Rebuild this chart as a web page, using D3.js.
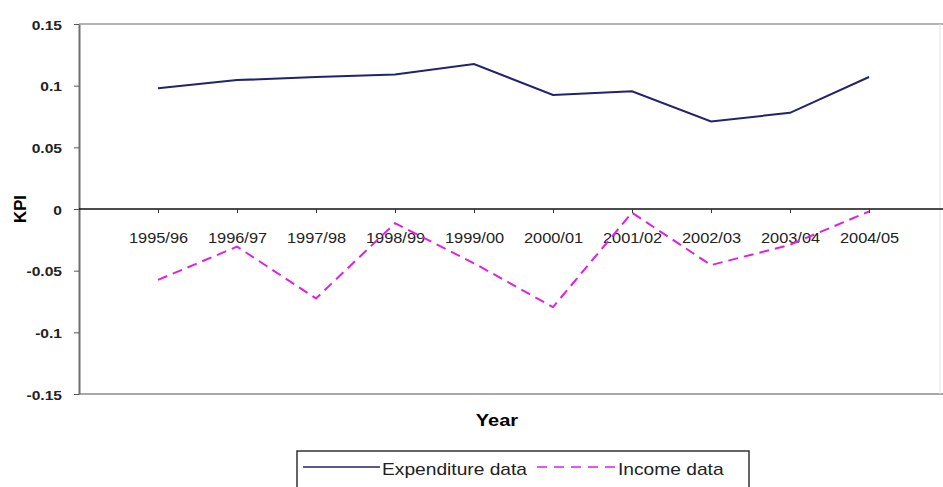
<!DOCTYPE html>
<html lang="en">
<head>
<meta charset="UTF-8">
<title>KPI by Year</title>
<script src="https://d3js.org/d3.v7.min.js"></script>
<style>
  body { margin: 0; background: #fff; }
  svg text { font-family: "Liberation Sans", Arial, sans-serif; }
</style>
</head>
<body>
<div id="chart"></div>
<script>
// data
const years = ["1995/96", "1996/97", "1997/98", "1998/99", "1999/00",
               "2000/01", "2001/02", "2002/03", "2003/04", "2004/05"];
const expenditure = [0.098, 0.1045, 0.107, 0.109, 0.1175, 0.0925, 0.0955, 0.071, 0.078, 0.107];
const income = [-0.0575, -0.0305, -0.0725, -0.0115, -0.044, -0.0795, -0.003, -0.0455, -0.029, -0.002];
const yTicks = [0.15, 0.1, 0.05, 0, -0.05, -0.1, -0.15];

const width = 943, height = 487;
const plot = { left: 79, right: 940, top: 24, bottom: 394 };

// the source image is stretched sideways, so text is widened a bit
function stretchText(sel, sx) {
    sel.each(function() {
        const t = d3.select(this);
        const tx = +t.attr("x") || 0, ty = +t.attr("y") || 0;
        t.attr("x", 0).attr("y", 0)
            .attr("transform", `translate(${tx},${ty}) scale(${sx},1)`);
    });
}

const svg = d3.select("#chart").append("svg")
    .attr("width", width)
    .attr("height", height);

const x = d3.scalePoint()
    .domain(years)
    .range([158, 869]);

const y = d3.scaleLinear()
    .domain([-0.15, 0.15])
    .range([plot.bottom, plot.top]);

// plot frame (grey top / bottom / right)
svg.append("line")
    .attr("x1", plot.left).attr("x2", width)
    .attr("y1", plot.top).attr("y2", plot.top)
    .attr("stroke", "#b4b4b4").attr("stroke-width", 2);
svg.append("line")
    .attr("x1", plot.left).attr("x2", width)
    .attr("y1", plot.bottom).attr("y2", plot.bottom)
    .attr("stroke", "#a8a8a8").attr("stroke-width", 2);
svg.append("line")
    .attr("x1", plot.right).attr("x2", plot.right)
    .attr("y1", plot.top).attr("y2", plot.bottom)
    .attr("stroke", "#e4e4e4").attr("stroke-width", 1);

// y axis
const yAxis = svg.append("g")
    .attr("transform", `translate(${plot.left},0)`)
    .call(d3.axisLeft(y).tickValues(yTicks).tickSize(5).tickSizeOuter(0)
        .tickFormat(d => d === 0 ? "0" : String(+d.toFixed(2))));
yAxis.select(".domain").attr("stroke", "#6e6e6e").attr("stroke-width", 2);
yAxis.selectAll(".tick line").attr("stroke", "#555");
yAxis.selectAll(".tick text")
    .attr("x", -17)
    .attr("y", 5)
    .attr("dy", null)
    .attr("fill", "#222")
    .style("font-size", "13px")
    .style("font-weight", "bold")
    .call(stretchText, 1.2);

// x axis on zero line
const xAxis = svg.append("g")
    .attr("transform", `translate(0,${y(0)})`)
    .call(d3.axisBottom(x).tickSize(4).tickSizeOuter(0));
xAxis.select(".domain")
    .attr("d", `M${plot.left},0H${width}`)
    .attr("stroke", "#111").attr("stroke-width", 1.5);
xAxis.selectAll(".tick line").attr("stroke", "#333");
xAxis.selectAll(".tick text")
    .attr("y", 34)
    .attr("dy", null)
    .attr("fill", "#222")
    .style("font-size", "14px")
    .call(stretchText, 1.17);

// lines
const line = d3.line()
    .x((d, i) => x(years[i]))
    .y(d => y(d));

svg.append("path")
    .datum(expenditure)
    .attr("d", line)
    .attr("fill", "none")
    .attr("stroke", "#22226e")
    .attr("stroke-width", 2);

svg.append("path")
    .datum(income)
    .attr("d", line)
    .attr("fill", "none")
    .attr("stroke", "#e020e0")
    .attr("stroke-width", 2)
    .attr("stroke-dasharray", "10,6");

// axis titles
svg.append("text")
    .attr("transform", `translate(26,${y(0)}) rotate(-90) scale(1.2,1.2)`)
    .attr("text-anchor", "middle")
    .style("font-size", "14px")
    .style("font-weight", "bold")
    .text("KPI");

svg.append("text")
    .attr("x", 497)
    .attr("y", 426)
    .attr("text-anchor", "middle")
    .style("font-size", "16px")
    .style("font-weight", "bold")
    .text("Year")
    .call(stretchText, 1.25);

// legend
const legend = svg.append("g");
legend.append("rect")
    .attr("x", 297).attr("y", 451)
    .attr("width", 452).attr("height", 50)
    .attr("fill", "#fff")
    .attr("stroke", "#333").attr("stroke-width", 1.5);

const legendItems = [
    { name: "Expenditure data", color: "#22226e", dash: null, x1: 303, x2: 380, tx: 382 },
    { name: "Income data", color: "#e020e0", dash: "10,7", x1: 537, x2: 618, tx: 618 }
];
legend.selectAll(".item")
    .data(legendItems)
    .enter()
    .append("g")
    .attr("class", "item")
    .each(function(d) {
        const g = d3.select(this);
        g.append("line")
            .attr("x1", d.x1).attr("x2", d.x2)
            .attr("y1", 467).attr("y2", 467)
            .attr("stroke", d.color)
            .attr("stroke-width", 1.5)
            .attr("stroke-dasharray", d.dash);
        g.append("text")
            .attr("x", d.tx)
            .attr("y", 475)
            .style("font-size", "16px")
            .attr("fill", "#222")
            .text(d.name)
            .call(stretchText, 1.2);
    });
</script>
</body>
</html>
